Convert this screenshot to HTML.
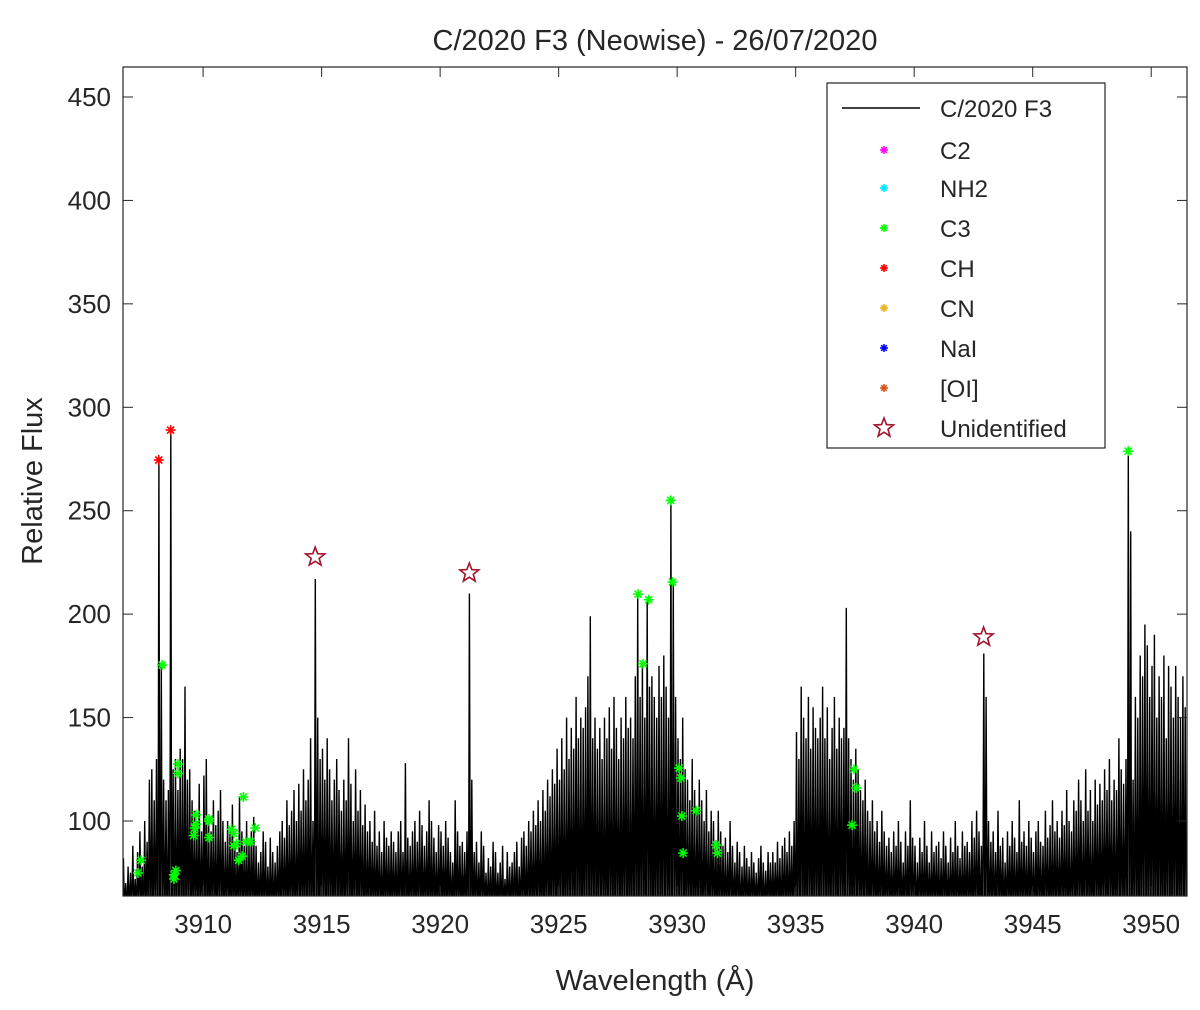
<!DOCTYPE html>
<html><head><meta charset="utf-8"><style>
html,body{margin:0;padding:0;background:#fff;}
svg text{font-family:"Liberation Sans",Arial,sans-serif;fill:#262626;}
</style></head><body>
<svg id="chart" width="1200" height="1005" viewBox="0 0 1200 1005" xmlns="http://www.w3.org/2000/svg">
<rect width="1200" height="1005" fill="#fff"/>
<text x="655" y="50" font-size="29" text-anchor="middle">C/2020 F3 (Neowise) - 26/07/2020</text>
<defs><clipPath id="clip"><rect x="123" y="67" width="1064" height="829"/></clipPath></defs>
<g id="series" clip-path="url(#clip)"></g>
<g id="axes"></g>
<g id="markers"></g>
<text x="655" y="990" font-size="29" text-anchor="middle">Wavelength (Å)</text>
<text transform="translate(42,481) rotate(-90)" font-size="29" text-anchor="middle">Relative Flux</text>
<g id="legend"></g>
</svg>
<script>
const xTicks=[3910,3915,3920,3925,3930,3935,3940,3945,3950];
const yTicks=[100,150,200,250,300,350,400,450];
const lambdaStart=3906.6;
const lambdaStep=0.1;
const fluxMax=[82,70,78,75,
88,72,85,95,78,100,90,120,125,110,
130,275,175,120,110,115,289,125,130,115,
135,130,165,120,125,110,105,100,118,95,
122,130,100,95,110,98,105,115,100,90,
100,95,108,90,85,112,95,88,100,90,
95,102,88,80,85,95,90,78,92,85,
80,88,95,100,92,110,98,105,115,100,
118,105,125,110,120,140,100,217,150,130,
135,120,140,125,110,120,130,115,105,120,
110,140,118,100,125,105,115,98,108,95,
100,90,105,88,95,85,100,92,88,95,
90,85,95,100,85,128,92,88,95,100,
90,105,98,88,95,110,100,92,85,98,
95,88,100,92,85,80,110,95,88,90,
85,95,210,120,85,90,80,95,88,75,
82,78,90,85,75,80,88,72,85,78,
80,85,90,78,92,95,88,100,95,105,
98,110,100,115,105,120,112,125,118,135,
120,140,125,150,130,145,135,160,140,150,
145,155,170,199,140,150,135,145,130,150,
140,155,135,160,145,130,150,140,160,145,
150,140,170,209,160,176,150,207,165,170,
160,150,175,160,180,165,150,255,215,160,
140,130,150,125,120,110,130,115,105,120,
110,100,115,95,105,100,90,105,95,88,
92,85,100,88,80,90,85,78,88,82,
78,85,80,75,82,88,80,76,85,80,
85,80,90,82,88,92,85,95,88,100,
143,130,165,150,140,160,135,155,145,140,
150,165,140,155,130,145,160,135,150,140,
145,203,140,130,120,135,125,115,110,120,
105,100,110,95,100,90,105,95,88,92,
85,95,88,100,90,80,95,88,110,92,
88,80,92,85,100,88,80,95,85,88,
90,82,95,88,80,92,85,100,88,82,
95,88,90,85,100,92,105,95,88,181,
160,100,90,95,85,105,88,92,80,95,
88,100,92,85,110,90,95,88,100,92,
85,95,100,90,88,105,92,98,110,95,
100,92,105,98,115,100,95,110,105,120,
110,100,125,105,115,100,120,108,118,110,
125,115,130,110,120,115,140,125,118,130,
278,240,120,160,150,180,170,195,185,160,
175,190,150,170,160,180,140,175,165,150,
175,160,150,170,155];
const fluxMinStart=3906;
const fluxMin=[62,62,62,62,62,62,62,62,62,62,62,62,62,62,62,62,62,62,62,62,62,62,62,62,62,62,62,62,62,62,62,62,62,62,62,62,62,62,62,62,62,62,62,62,62,62];
const chX=[3908.13,3908.63];
const chY=[274.5,289];
const c3X=[3907.25,3907.38,3908.27,3908.77,3908.77,3908.85,3908.94,3908.94,3909.6,3909.65,3909.7,3909.7,3910.25,3910.25,3910.25,3911.2,3911.3,3911.3,3911.4,3911.5,3911.65,3911.7,3911.8,3912.0,3912.2,3928.35,3928.56,3928.8,3929.73,3929.8,3930.08,3930.16,3930.2,3930.25,3930.8,3931.64,3931.7,3937.38,3937.46,3937.55,3949.03];
const c3Y=[74.9,81,175.4,72,74,76,127.5,123,93,96.6,103,98.5,92,101,100,96,94,88,89,81,83,111.6,90,90,96.6,209.7,176,207,255,215.5,125.6,120.8,102.4,84.5,105,88.4,84.5,98,125,116,278.8];
const unidX=[3914.73,3921.23,3942.93];
const unidY=[227.6,219.9,188.9];
const legendLabels=["C/2020 F3","C2","NH2","C3","CH","CN","NaI","[OI]","Unidentified"];
const legendColors=["#000","#ff00ff","#00e5ff","#00ff00","#ff0000","#edb120","#0000ff","#d95319","#a2142f"];

const NS="http://www.w3.org/2000/svg";
const L=123,R=1187,T=67,B=896;
const xmin=3906.62,xmax=3951.51,ymin=63.75,ymax=464.5;
function sx(v){return L+(v-xmin)/(xmax-xmin)*(R-L);}
function sy(v){return B-(v-ymin)/(ymax-ymin)*(B-T);}
function mk(tag,attrs,parent){const e=document.createElementNS(NS,tag);for(const k in attrs)e.setAttribute(k,attrs[k]);parent.appendChild(e);return e;}

let d="";
for(let i=0;i<fluxMax.length;i++){
  const lam=lambdaStart+i*lambdaStep;
  const lo=fluxMin[Math.floor(lam-fluxMinStart)]||62;
  d+=(i?"L":"M")+sx(lam).toFixed(1)+","+sy(lo).toFixed(1);
  d+="L"+sx(lam+0.035).toFixed(1)+","+sy(fluxMax[i]).toFixed(1);
  d+="L"+sx(lam+0.07).toFixed(1)+","+sy(lo).toFixed(1);
}
const line=mk("path",{d:d,fill:"none",stroke:"#000","stroke-width":"1.4"},document.getElementById("series"));



const ax=document.getElementById("axes");
const box=mk("rect",{x:L,y:T,width:R-L,height:B-T,fill:"none",stroke:"#262626","stroke-width":"1.2"},ax);


xTicks.forEach(v=>{
  const x=sx(v);
  mk("line",{x1:x,x2:x,y1:B,y2:B-10,stroke:"#262626"},ax);
  mk("line",{x1:x,x2:x,y1:T,y2:T+10,stroke:"#262626"},ax);
  const t=mk("text",{x:x,y:B+37,"font-size":"26","text-anchor":"middle"},ax);
  t.textContent=v;
  
  
});
yTicks.forEach(v=>{
  const y=sy(v);
  mk("line",{x1:L,x2:L+10,y1:y,y2:y,stroke:"#262626"},ax);
  mk("line",{x1:R,x2:R-10,y1:y,y2:y,stroke:"#262626"},ax);
  const t=mk("text",{x:L-12,y:y+9,"font-size":"26","text-anchor":"end"},ax);
  t.textContent=v;
  
  
});

function aster(g,x,y,c,s){
  for(let a=0;a<4;a++){const ang=a*Math.PI/4;mk("line",{x1:x-s*Math.cos(ang),y1:y-s*Math.sin(ang),x2:x+s*Math.cos(ang),y2:y+s*Math.sin(ang),stroke:c,"stroke-width":"1.6"},g);}
}
function star(g,x,y,c,r){
  let p="";for(let i=0;i<10;i++){const rr=i%2?r*0.42:r;const a=-Math.PI/2+i*Math.PI/5;p+=(x+rr*Math.cos(a)).toFixed(1)+","+(y+rr*Math.sin(a)).toFixed(1)+" ";}
  mk("polygon",{points:p,fill:"none",stroke:c,"stroke-width":"1.6"},g);
}
const mg=document.getElementById("markers");
chX.forEach((v,i)=>{const g=mk("g",{},mg);aster(g,sx(v),sy(chY[i]),"#ff0000",5);});
c3X.forEach((v,i)=>{const g=mk("g",{},mg);aster(g,sx(v),sy(c3Y[i]),"#00ff00",5);});
unidX.forEach((v,i)=>{const g=mk("g",{},mg);star(g,sx(v),sy(unidY[i]),"#a2142f",10);});

const lg=document.getElementById("legend");


mk("rect",{x:827,y:83,width:278,height:365,fill:"#fff",stroke:"#262626","stroke-width":"1.2"},lg);
const rowY=[108,150,188,228,268,308,348,388,428];
legendLabels.forEach((lab,i)=>{
  const g=mk("g",{},lg);
  
  
  const y=rowY[i];
  if(i===0) mk("line",{x1:842,x2:920,y1:y,y2:y,stroke:"#000","stroke-width":"1.5"},g);
  else if(i===8) star(g,884,y,legendColors[i],10);
  else aster(g,884,y,legendColors[i],4);
  const t=mk("text",{x:940,y:y+9,"font-size":"24"},g);
  t.textContent=lab;
});
</script>
</body></html>
